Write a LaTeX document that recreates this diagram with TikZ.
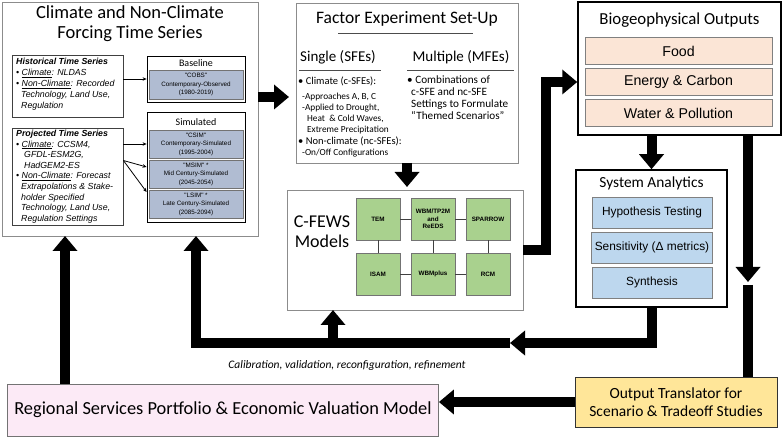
\documentclass[tikz,border=0pt]{standalone}
\usepackage{fontspec}
\setmainfont{Carlito}
\newfontfamily\arialf{Liberation Sans}
\usetikzlibrary{positioning, arrows.meta, calc}
\definecolor{cellblue}{HTML}{B0BCD2}
\definecolor{modelgreen}{HTML}{A9D18E}
\definecolor{outpeach}{HTML}{FBE5D6}
\definecolor{anablue}{HTML}{BDD7EE}
\definecolor{regpink}{HTML}{FCEAF6}
\definecolor{transyellow}{HTML}{FFE699}

\begin{document}
\begin{tikzpicture}[x=1pt, y=-1pt,
  frame/.style={draw=black!45, line width=0.8pt, inner sep=0, outer sep=0},
  hbox/.style={draw=black!75, line width=0.8pt, fill=white, inner sep=0},
  cell/.style={draw=black!55, line width=0.6pt, fill=cellblue, minimum width=94pt, minimum height=28pt, inner sep=0, align=center, node distance=30pt, font=\arialf\fontsize{6.3}{8.5}\selectfont},
  model/.style={draw=black!55, line width=0.6pt, fill=modelgreen, minimum width=44pt, minimum height=42pt, inner sep=0, align=center, node distance=55pt, font=\arialf\bfseries\fontsize{6.3}{7.5}\selectfont},
  outcell/.style={draw=black!50, line width=0.6pt, fill=outpeach, minimum width=187pt, minimum height=27pt, node distance=31pt, font=\arialf\fontsize{14.2}{16}\selectfont},
  ana/.style={draw=black!50, line width=0.6pt, fill=anablue, minimum width=120pt, minimum height=31pt, node distance=35pt, font=\arialf\fontsize{11.9}{13}\selectfont},
  bigarrow/.style={line width=10pt, -{Triangle[length=15pt, width=24pt]}},
  bigline/.style={line width=10pt},
  thinarrow/.style={line width=0.8pt, -{Stealth[length=4pt, width=3.5pt]}}]

  \useasboundingbox (0,0) rectangle (782,438);

  % forcing time series
  \node[frame, minimum width=256pt, minimum height=234pt] at (130,119) (forcing) {};
  \node[font=\fontsize{18.5}{20}\selectfont, align=center] at (130,24) (forcingtitle) {Climate and Non-Climate\\Forcing Time Series};

  \node[hbox, minimum width=111pt, minimum height=62pt] at (67.5,86) (hist) {};
  \node[anchor=north west, align=left, inner sep=0, font=\arialf\itshape\fontsize{8.8}{11}\selectfont] at (16,58) (histtext) {{\bfseries Historical Time Series}\\
    \textbullet\ \underline{Climate}: NLDAS\\
    \textbullet\ \underline{Non-Climate}: Recorded\\
    \hspace*{5pt}Technology, Land Use,\\
    \hspace*{5pt}Regulation};

  \node[hbox, minimum width=111pt, minimum height=97pt] at (67.5,176.5) (proj) {};
  \node[anchor=north west, align=left, inner sep=0, font=\arialf\itshape\fontsize{8.8}{10.6}\selectfont] at (16,130) (projtext) {{\bfseries Projected Time Series}\\
    \textbullet\ \underline{Climate}: CCSM4,\\
    \hspace*{8pt}GFDL-ESM2G,\\
    \hspace*{8pt}HadGEM2-ES\\
    \textbullet\ \underline{Non-Climate}: Forecast\\
    \hspace*{5pt}Extrapolations \& Stake-\\
    \hspace*{5pt}holder Specified\\
    \hspace*{5pt}Technology, Land Use,\\
    \hspace*{5pt}Regulation Settings};

  \node[hbox, draw=black, minimum width=98pt, minimum height=46pt] at (196,79) (base) {};
  \node[font=\fontsize{10}{11}\selectfont] at (196,63) (basetitle) {Baseline};
  \node[cell, minimum height=29pt] at (196,84.5) (cobs) {"COBS"\\Contemporary-Observed\\(1980-2019)};

  \node[hbox, draw=black, minimum width=98pt, minimum height=110pt] at (196,167) (sim) {};
  \node[font=\fontsize{10}{11}\selectfont] at (196,122) (simtitle) {Simulated};
  \node[cell] at (196,144) (csim) {"CSIM"\\Contemporary-Simulated\\(1995-2004)};
  \node[cell, below of = csim] (msim) {"MSIM" *\\Mid Century-Simulated\\(2045-2054)};
  \node[cell, below of = msim] (lsim) {"LSIM" *\\Late Century-Simulated\\(2085-2094)};

  \coordinate (pj) at ($(proj.east)+(0,-16)$);
  \draw[thinarrow] (hist.east |- base) -- (base.west);
  \draw[thinarrow] (proj.east |- csim) -- (csim -| sim.west);
  \draw[thinarrow] (pj) -- ($(msim -| sim.west)+(0,-7)$);
  \draw[thinarrow] (pj) -- ($(lsim -| sim.west)+(0,-12)$);

  % factor experiment set-up
  \node[frame, minimum width=222pt, minimum height=160pt] at (407,83) (factor) {};
  \node[font=\fontsize{17.5}{20}\selectfont] at (407,19) (factortitle) {Factor Experiment Set-Up};
  \draw[black!70, line width=0.8pt] (338,33) -- (473,33);
  \node[font=\fontsize{15}{18}\selectfont] at (338,57) (single) {Single (SFEs)};
  \draw[black!70, line width=0.8pt] (299,70) -- (381,70);
  \node[font=\fontsize{15}{18}\selectfont] at (461,57) (multiple) {Multiple (MFEs)};
  \draw[black!70, line width=0.8pt] (407,70) -- (514,70);
  \node[anchor=north west, align=left, inner sep=0, font=\fontsize{10.5}{11}\selectfont] at (298,77) (singlelist) {\textbullet\ Climate (c-SFEs):\\[4pt]
    {\fontsize{9.3}{11}\selectfont\hspace*{4pt}-Approaches A, B, C}\\
    {\fontsize{9.3}{11}\selectfont\hspace*{4pt}-Applied to Drought,}\\
    {\fontsize{9.3}{11}\selectfont\hspace*{9pt}Heat\ \ \& Cold Waves,}\\
    {\fontsize{9.3}{11}\selectfont\hspace*{9pt}Extreme Precipitation}\\[1pt]
    \textbullet\ Non-climate (nc-SFEs):\\
    {\fontsize{9.3}{11}\selectfont\hspace*{4pt}-On/Off Configurations}};
  \node[anchor=north west, align=left, inner sep=0, font=\fontsize{11.2}{12}\selectfont] at (407,76) (multiplelist) {\textbullet\ Combinations of\\
    \hspace*{4pt}c-SFE and nc-SFE\\
    \hspace*{4pt}Settings to Formulate\\
    \hspace*{4pt}“Themed Scenarios”};

  \coordinate (fa) at ([yshift=22pt]forcing.east);
  \draw[bigarrow, shorten >=7pt] (fa) -- (fa -| factor.west);

  % models
  \node[frame, minimum width=236pt, minimum height=120pt] at (405,250) (cfews) {};
  \node[font=\fontsize{18}{20}\selectfont, align=center] at (322,232) (cfewslabel) {C-FEWS\\Models};
  \node[model] at (378,219) (tem) {TEM};
  \node[model, right of = tem] (wbm) {WBM/TP2M\\and\\ReEDS};
  \node[model, right of = wbm] (sparrow) {SPARROW};
  \node[model, below of = tem] (isam) {ISAM};
  \node[model, right of = isam] (wbmplus) {WBMplus};
  \node[model, right of = wbmplus] (rcm) {RCM};
  \draw[black!75, line width=0.8pt] (tem) -- (wbm) -- (sparrow) (isam) -- (wbmplus) -- (rcm)
    (tem) -- (isam) (wbm) -- (wbmplus) (sparrow) -- (rcm);

  \draw[bigarrow, shorten >=3pt] (factor.south) -- (factor.south |- cfews.north);

  % outputs
  \node[draw=black, line width=1.5pt, minimum width=203pt, minimum height=133pt] at (679.5,68.5) (bio) {};
  \node[font=\fontsize{16.8}{18}\selectfont] at (679.5,20) (biotitle) {Biogeophysical Outputs};
  \node[outcell] at (678.5,51) (food) {Food};
  \node[outcell, below of = food] (energy) {Energy \& Carbon};
  \node[outcell, below of = energy] (water) {Water \& Pollution};

  \draw[bigarrow] (cfews.east) -- ++(23,0) |- (bio.west |- energy);

  % analytics
  \node[draw=black, line width=1.5pt, minimum width=151pt, minimum height=137pt] at (651.5,238.5) (sys) {};
  \node[font=\fontsize{15.4}{18}\selectfont] at (651.5,183) (systitle) {System Analytics};
  \node[ana] at (652,212.5) (hyp) {Hypothesis Testing};
  \node[ana, below of = hyp] (sens) {Sensitivity (Δ metrics)};
  \node[ana, below of = sens] (syn) {Synthesis};

  \draw[bigarrow] (sys.north |- bio.south) -- (sys.north);

  % bottom row
  \node[draw=black!55, line width=0.8pt, fill=regpink, minimum width=431pt, minimum height=52pt, font=\fontsize{18.4}{20}\selectfont] at (223,410) (region) {Regional Services Portfolio \& Economic Valuation Model};
  \node[draw=black!80, line width=1pt, fill=transyellow, minimum width=202pt, minimum height=50pt, align=center, font=\fontsize{15.5}{17.5}\selectfont] at (676,402) (trans) {Output Translator for\\Scenario \& Tradeoff Studies};

  \coordinate (gap) at (748,282);
  \draw[bigarrow] (gap |- bio.south) -- (gap);
  \draw[bigline] ([yshift=-3pt]gap) -- (gap |- trans.north);
  \draw[bigarrow] (trans.west) -- (region.east |- trans.west);

  \coordinate (regup) at ([xshift=-158pt]region.north);
  \draw[bigarrow] (regup) -- (regup |- forcing.south);

  % feedback loop
  \coordinate (cal) at (510,343);
  \coordinate (calup) at (333,343);
  \draw[bigarrow] (sys.south) |- (cal);
  \draw[bigarrow] (cal) -| ([xshift=66pt]forcing.south);
  \draw[bigarrow] (calup) -- (calup |- cfews.south);
  \node[font=\itshape\fontsize{11.5}{13}\selectfont] at (347,365) (callabel) {Calibration, validation, reconfiguration, refinement};

\end{tikzpicture}
\end{document}
